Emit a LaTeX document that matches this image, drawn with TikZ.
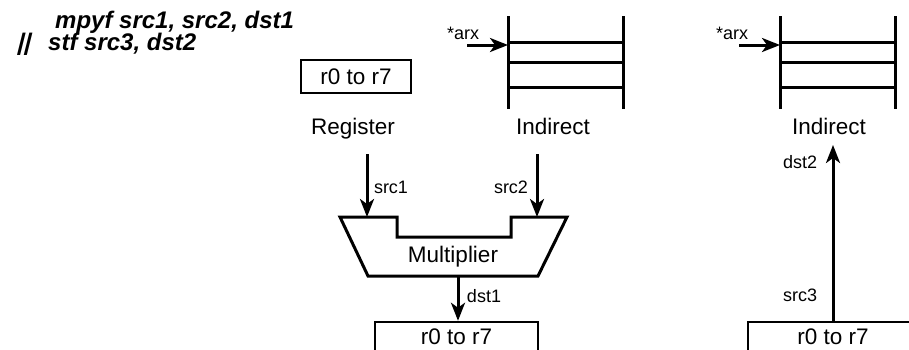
\documentclass[tikz,border=0pt]{standalone}
\usepackage{fontspec}
\setmainfont{Liberation Sans}
\usetikzlibrary{arrows.meta}
\newcommand{\bigtxt}{\fontsize{22.5}{26}\selectfont}
\newcommand{\smalltxt}{\fontsize{18}{20}\selectfont}
\newcommand{\optxt}{\fontsize{24}{27}\selectfont\bfseries\itshape}

\begin{document}
\begin{tikzpicture}[x=1pt, y=-1pt,
        regbox/.style={draw, black, line width=2.5pt, inner sep=0pt, font=\bigtxt},
        wire/.style={black, line width=3pt},
        flow/.style={black, line width=3pt, -{Stealth[length=18pt, width=14pt, inset=5pt]}},
        lbl/.style={font=\bigtxt, inner sep=0pt, anchor=base},
        tag/.style={font=\smalltxt, inner sep=0pt},
        optext/.style={font=\optxt, inner sep=0pt, anchor=base west}]
        \useasboundingbox (0,0) rectangle (909,349);
        \clip (0,0) rectangle (909,349);

        %%-instruction
        \node[optext] (opA) at (55,28) {mpyf src1, src2, dst1};
        \node[optext, xslant=0.25, transform shape] (par) at (16,50) {||};
        \node[optext] (opB) at (48,50) {stf src3, dst2};

        %%-register source
        \node[regbox, minimum width=110pt, minimum height=33pt] (regA) at (356,76.5) {r0 to r7};
        \node[lbl] (regname) at (353,134) {Register};

        %%-indirect source
        \draw[wire] (508,16) -- (508,109);
        \draw[wire] (623,16) -- (623,109);
        \draw[wire] (508,42) -- (623,42);
        \draw[wire] (508,62) -- (623,62);
        \draw[wire] (508,87) -- (623,87);
        \coordinate (arxA) at (508,45);
        \coordinate (arxAstart) at (467,45);
        \node[tag, anchor=base] (arxAtxt) at (463,39) {*arx};
        \draw[flow] (arxAstart) -- (arxA);
        \node[lbl] (indA) at (553,134) {Indirect};

        %%-multiplier
        \draw[wire, line join=miter] (340,217) -- (397,217) -- (397,237) -- (511,237) -- (511,217) -- (567,217) -- (538,276) -- (368,276) -- cycle;
        \node[font=\bigtxt, inner sep=0pt] (mul) at (453,257) {Multiplier};
        \coordinate (inA) at (367,217);
        \coordinate (inB) at (537,217);
        \coordinate (outA) at (458,276);
        \coordinate (srcAtop) at (367,154);
        \coordinate (srcBtop) at (537,154);

        \draw[flow] (srcAtop) -- (inA);
        \node[tag] (srcAtxt) at (391,187) {src1};
        \draw[flow] (srcBtop) -- (inB);
        \node[tag] (srcBtxt) at (511,187) {src2};

        %%-destination 1
        \node[regbox, minimum width=163pt, minimum height=30pt] (regB) at (456.5,337) {r0 to r7};
        \draw[flow] (outA) -- (regB.north -| outA);
        \node[tag] (dstAtxt) at (484,296) {dst1};

        %%-indirect destination
        \draw[wire] (780,16) -- (780,109);
        \draw[wire] (895,16) -- (895,109);
        \draw[wire] (780,42) -- (895,42);
        \draw[wire] (780,62) -- (895,62);
        \draw[wire] (780,87) -- (895,87);
        \coordinate (arxB) at (780,45);
        \coordinate (arxBstart) at (739,45);
        \node[tag, anchor=base] (arxBtxt) at (732,39) {*arx};
        \draw[flow] (arxBstart) -- (arxB);
        \node[lbl] (indB) at (829,134) {Indirect};

        %%-store path
        \node[regbox, minimum width=170pt, minimum height=30pt] (regC) at (833,337) {r0 to r7};
        \coordinate (dstBtop) at (833,145);
        \draw[flow] (regC.north) -- (dstBtop);
        \node[tag] (dstBtxt) at (800,162) {dst2};
        \node[tag] (srcCtxt) at (800,295) {src3};
\end{tikzpicture}
\end{document}
